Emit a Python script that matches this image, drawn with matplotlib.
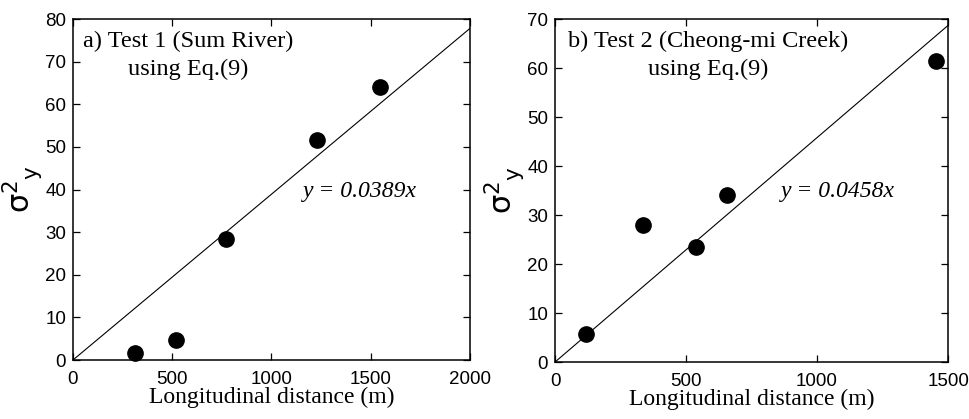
import numpy as np
import matplotlib.pyplot as plt

# Test 1 (Sum River)
dist_a = [314, 518, 770, 1228, 1547]
var_a = [1.6, 4.8, 28.3, 51.6, 64.1]
slope_a = 0.0389

# Test 2 (Cheong-mi Creek)
dist_b = [120, 336, 537, 658, 1453]
var_b = [5.8, 27.9, 23.4, 34.0, 61.5]
slope_b = 0.0458

serif = 'Liberation Serif'
sans = 'Liberation Sans'

fig = plt.figure(figsize=(9.69, 4.19), dpi=100)
ax1 = fig.add_axes([0.0753, 0.1408, 0.4097, 0.8138])
ax2 = fig.add_axes([0.5728, 0.136, 0.4056, 0.8186])


def draw_panel(ax, x, y, slope, xmax, ymax, title, title_x, eq_pos):
    xl = np.array([0, xmax])
    ax.plot(xl, slope * xl, color='black', lw=0.8)
    ax.plot(x, y, 'o', color='black', ms=11, clip_on=False, zorder=3)
    ax.set_xlim(0, xmax)
    ax.set_ylim(0, ymax)
    ax.tick_params(direction='in', top=True, right=True, length=5, width=0.9,
                   labelsize=13.5, pad=5)
    ax.tick_params(axis='x', pad=8)
    for lab in ax.get_xticklabels() + ax.get_yticklabels():
        lab.set_fontfamily(sans)
    for sp in ax.spines.values():
        sp.set_linewidth(1.1)
    ax.set_xlabel('Longitudinal distance (m)', fontfamily=serif, fontsize=17, labelpad=-1)
    ax.set_ylabel(r'$\mathrm{\sigma}^{2}_{\ \ \mathrm{y}}$', fontsize=22, labelpad=0)
    ax.text(title_x, 0.965, title, transform=ax.transAxes, ha='center', va='top',
            multialignment='center', fontfamily=serif, fontsize=17.5, linespacing=1.4)
    ax.text(eq_pos[0], eq_pos[1], 'y = %.4fx' % slope, fontfamily=serif,
            style='italic', fontsize=17, va='center')


draw_panel(ax1, dist_a, var_a, slope_a, 2000, 80,
           'a) Test 1 (Sum River)\nusing Eq.(9)', 0.29, (1160, 39.5))
draw_panel(ax2, dist_b, var_b, slope_b, 1500, 70,
           'b) Test 2 (Cheong-mi Creek)\nusing Eq.(9)', 0.39, (862, 34.7))

ax1.set_xticks([0, 500, 1000, 1500, 2000])
ax2.set_xticks([0, 500, 1000, 1500])

fig.savefig('out.png', dpi=100)
